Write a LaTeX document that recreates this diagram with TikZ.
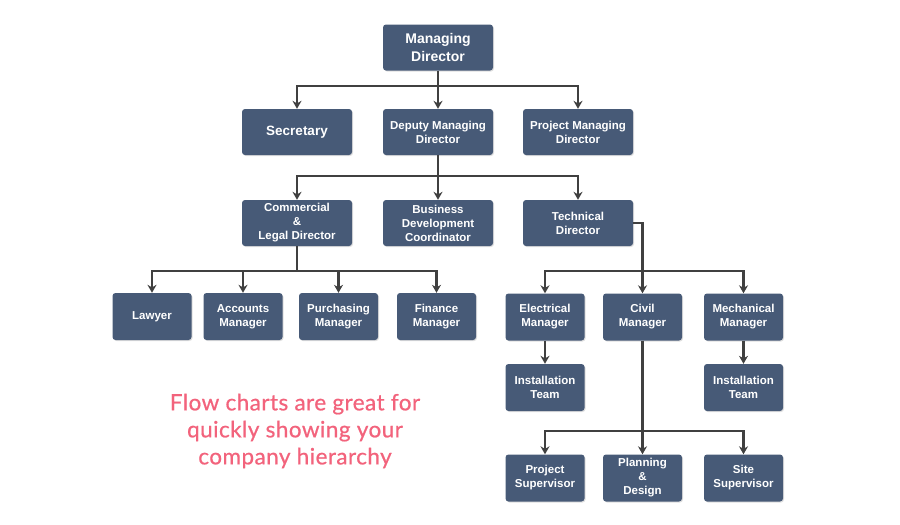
\documentclass[tikz,border=0pt]{standalone}
\usepackage{fontspec}
\setmainfont{Liberation Sans}
\newfontfamily\notefont[FakeBold=0.7,LetterSpace=2]{Lato}
\usetikzlibrary{arrows.meta,shadows}
\definecolor{boxblue}{HTML}{475A77}
\definecolor{linegrey}{HTML}{404040}
\definecolor{notepink}{HTML}{F2637C}
\begin{document}
\begin{tikzpicture}[x=1pt,y=-1pt,
  box/.style={draw=none, fill=boxblue, rounded corners=3pt, text=white, align=center,
    font=\fontsize{11.5}{14}\selectfont\bfseries, inner sep=2pt,
    drop shadow={shadow xshift=1pt, shadow yshift=-1pt, opacity=0.25}},
  wide/.style={box, minimum width=110pt, minimum height=46pt},
  small/.style={box, minimum width=79pt, minimum height=47pt},
  conn/.style={draw=linegrey, line width=2.2pt, -{Stealth[length=8pt,width=9pt]}}]
  \useasboundingbox (0,0) rectangle (900,525);
  % Top
  \node[wide, font=\fontsize{14}{18}\selectfont\bfseries] (md) at (438,47.5) {Managing\\Director};
  % Second row
  \node[wide, font=\fontsize{13.5}{16}\selectfont\bfseries] (sec) at (297,132) {Secretary};
  \node[wide] (dmd) at (438,132) {Deputy Managing\\Director};
  \node[wide] (pmd) at (578,132) {Project Managing\\Director};
  % Third row
  \node[wide] (cld) at (297,223) {Commercial\\\&\\Legal Director};
  \node[wide] (bdc) at (438,223) {Business\\Development\\Coordinator};
  \node[wide] (tech) at (578,223) {Technical\\Director};
  % Commercial side
  \node[small] (law) at (152,316.5) {Lawyer};
  \node[small] (acc) at (243,316.5) {Accounts\\Manager};
  \node[small] (pur) at (338.5,316.5) {Purchasing\\Manager};
  \node[small] (fin) at (436.5,316.5) {Finance\\Manager};
  % Technical side
  \node[small] (ele) at (545,317) {Electrical\\Manager};
  \node[small] (civ) at (642.5,317) {Civil\\Manager};
  \node[small] (mech) at (743.5,317) {Mechanical\\Manager};
  \node[small] (inst1) at (545,387.5) {Installation\\Team};
  \node[small] (inst2) at (743.5,387.5) {Installation\\Team};
  \node[small] (psup) at (545,478) {Project\\Supervisor};
  \node[small] (plan) at (642.5,478) {Planning\\\&\\Design};
  \node[small] (ssup) at (743.5,478) {Site\\Supervisor};
  % Connectors
  \coordinate (mdbar) at (438,86);
  \draw[conn] (md.south) -- (dmd.north);
  \draw[conn] (mdbar) -| (sec.north);
  \draw[conn] (mdbar) -| (pmd.north);
  \coordinate (dbar) at (438,176);
  \draw[conn] (dmd.south) -- (bdc.north);
  \draw[conn] (dbar) -| (cld.north);
  \draw[conn] (dbar) -| (tech.north);
  \coordinate (cbar) at (297,271);
  \draw[conn, -] (cld.south) -- (cbar);
  \draw[conn] (cbar) -| (law.north);
  \draw[conn] (cbar) -| (acc.north);
  \draw[conn] (cbar) -| (pur.north);
  \draw[conn] (cbar) -| (fin.north);
  \coordinate (tbar) at (642.5,271);
  \draw[conn] (tech.east) -| (civ.north);
  \draw[conn] (tbar) -| (ele.north);
  \draw[conn] (tbar) -| (mech.north);
  \draw[conn] (ele.south) -- (inst1.north);
  \draw[conn] (mech.south) -- (inst2.north);
  \coordinate (vbar) at (642.5,431);
  \draw[conn] (civ.south) -- (plan.north);
  \draw[conn] (vbar) -| (psup.north);
  \draw[conn] (vbar) -| (ssup.north);
  % Note
  \node[text=notepink, align=center, font=\notefont\fontsize{22.5}{27}\selectfont] (note) at (295,431)
    {Flow charts are great for\\quickly showing your\\company hierarchy};
\end{tikzpicture}
\end{document}
